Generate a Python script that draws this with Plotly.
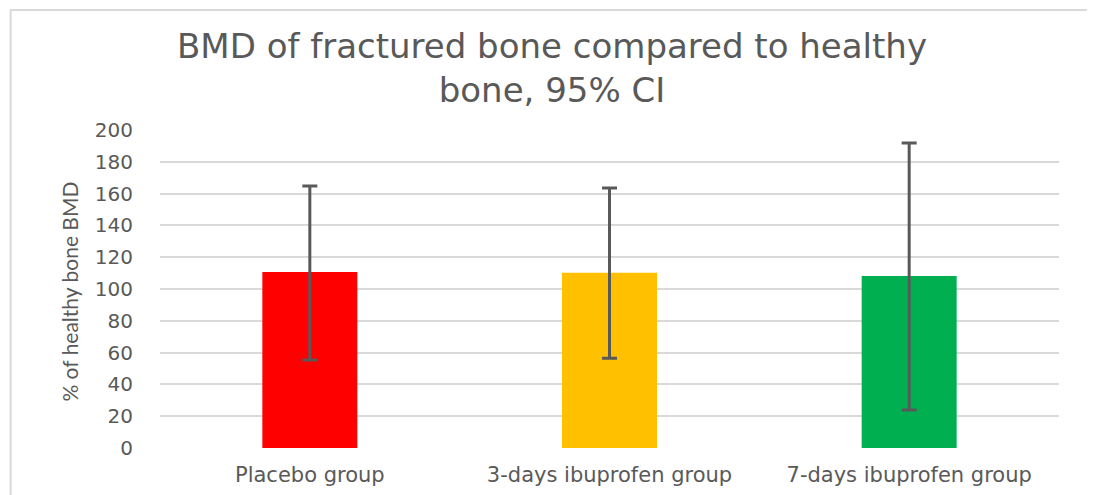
import plotly.graph_objects as go

categories = ["Placebo group", "3-days ibuprofen group", "7-days ibuprofen group"]
mean_pct = [110.7, 110.2, 108.2]
ci_upper = [164.8, 163.5, 191.8]
ci_lower = [55.4, 56.5, 23.9]
bar_colors = ["#FF0000", "#FFC000", "#00B050"]
y_ticks = [0, 20, 40, 60, 80, 100, 120, 140, 160, 180, 200]

err_plus = [u - m for u, m in zip(ci_upper, mean_pct)]
err_minus = [m - l for m, l in zip(mean_pct, ci_lower)]

OFF = 8  # page body margin in the browser
W, H = 1095, 495
L, R, T, B = 159.5 - OFF, 35.5 + OFF, 130 - OFF, 47 + OFF
pw, ph = W - L - R, H - T - B

def px_x(p):
    return (p - OFF - L) / pw

def px_y(p):
    return (H - B - (p - OFF)) / ph

fig = go.Figure(go.Bar(
    x=categories, y=mean_pct,
    marker=dict(color=bar_colors, line=dict(width=0)),
    width=0.317,
    error_y=dict(type="data", symmetric=False, array=err_plus, arrayminus=err_minus,
                 color="#595959", thickness=3, width=7.5),
))

grey = "#595959"
fig.update_layout(
    width=W, height=H,
    margin=dict(l=L, r=R, t=T, b=B, autoexpand=False),
    paper_bgcolor="white", plot_bgcolor="white",
    showlegend=False,
    font=dict(family="DejaVu Sans", color=grey),
    xaxis=dict(showgrid=False, showline=False, zeroline=False, ticks="",
               ticklabelstandoff=12,
               tickfont=dict(family="DejaVu Sans", size=21, color=grey)),
    yaxis=dict(range=[0, 200], tickvals=y_ticks, showgrid=True, gridcolor="#D9D9D9",
               gridwidth=2, zeroline=False, showline=False, ticks="",
               ticklabelstandoff=26,
               tickfont=dict(family="DejaVu Sans", size=20, color=grey)),
    annotations=[
        dict(text="BMD of fractured bone compared to healthy<br>bone, 95% CI",
             xref="paper", yref="paper", x=px_x(551.5), y=px_y(67.5),
             xanchor="center", yanchor="middle", showarrow=False,
             font=dict(family="DejaVu Sans", size=34, color=grey)),
        dict(text="% of healthy bone BMD", textangle=-90,
             xref="paper", yref="paper", x=px_x(68), y=px_y(292),
             xanchor="center", yanchor="middle", showarrow=False,
             font=dict(family="Lato", size=21, color=grey)),
    ],
    shapes=[
        dict(type="rect", xref="paper", yref="paper",
             x0=px_x(10), x1=px_x(1090), y0=px_y(10), y1=px_y(520),
             line=dict(color="#D9D9D9", width=2), fillcolor="rgba(0,0,0,0)", layer="above"),
    ],
)

fig.write_html("out.html")
